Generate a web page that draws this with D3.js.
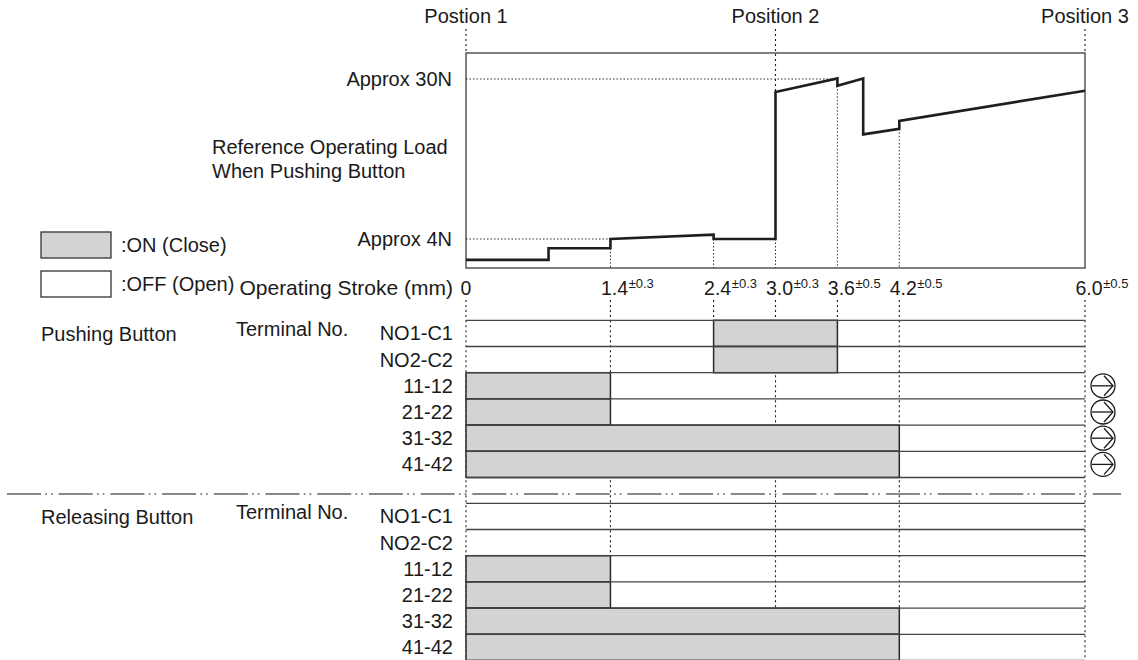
<!DOCTYPE html>
<html><head><meta charset="utf-8">
<script src="https://cdn.jsdelivr.net/npm/d3@7"></script>
<style>
body{margin:0;background:#fff}
svg{display:block}
text{font-family:"Liberation Sans",Arial,Helvetica,sans-serif;fill:#1a1a1a}
</style>
</head><body>
<svg id="c" width="1138" height="660"></svg>
<script>
// ---- data ----
const positionLabels = ["Postion 1", "Position 2", "Position 3"];
const positionStroke = [0, 3.0, 6.0];
const strokeTicks = [0, 1.4, 2.4, 3.0, 3.6, 4.2, 6.0];
const tickTolerance = ["", "±0.3", "±0.3", "±0.3", "±0.5", "±0.5", "±0.5"];
const loadLabels = ["Approx 30N", "Approx 4N"];
const loadValues = [30, 4];
const loadGuideTo = [3.6, 1.4];
const curveStroke = [0, 0.8, 0.8, 1.4, 1.4, 2.4, 2.4, 3.0, 3.0, 3.6, 3.6, 3.85, 3.85, 4.2, 4.2, 6.0];
const curveLoad   = [0.6, 0.6, 2.5, 2.5, 4.0, 4.7, 4.0, 4.0, 27.9, 30.1, 28.9, 30.1, 21.0, 21.9, 23.2, 28.1];
const terminals = ["NO1-C1", "NO2-C2", "11-12", "21-22", "31-32", "41-42"];
const pushOnFrom = [2.4, 2.4, 0, 0, 0, 0];
const pushOnTo   = [3.6, 3.6, 1.4, 1.4, 4.2, 4.2];
const releaseOnFrom = [null, null, 0, 0, 0, 0];
const releaseOnTo   = [null, null, 1.4, 1.4, 4.2, 4.2];
const pushArrow = [false, false, true, true, true, true];
const tableGuideStroke = [0, 1.4, 3.0, 4.2, 6.0];
const legendLabels = [":ON (Close)", ":OFF (Open)"];
const sectionLabels = ["Pushing Button", "Releasing Button"];

// ---- layout ----
const svg = d3.select("#c");
const FS = 20;
const GRAY = "#d2d3d5";
const INK = "#1a1a1a";
const boxTop = 53, boxBottom = 268;
const x = d3.scaleLinear().domain([0, 6]).range([466, 1085]);
const y = d3.scaleLinear().domain([4, 30]).range([239, 79]);
const rowH = 26.2;
const tables = [
  {top: 320.3, from: pushOnFrom, to: pushOnTo, label: sectionLabels[0], arrows: pushArrow},
  {top: 503.3, from: releaseOnFrom, to: releaseOnTo, label: sectionLabels[1], arrows: null}
];
const dotted = "2 3";

// ---- position labels & guides ----
positionLabels.forEach((lab, i) => {
  const px = x(positionStroke[i]);
  svg.append("text").attr("x", px).attr("y", 23).attr("text-anchor", "middle")
    .attr("font-size", FS).text(lab);
  const vals = curveStroke.map((s, k) => s === positionStroke[i] ? curveLoad[k] : null).filter(v => v !== null);
  let yEnd = boxTop;
  if (i === 1) yEnd = y(d3.max(vals));
  svg.append("line").attr("x1", px).attr("x2", px).attr("y1", 29).attr("y2", yEnd)
    .attr("stroke", INK).attr("stroke-width", 1.1).attr("stroke-dasharray", dotted);
});

// ---- chart frame ----
svg.append("rect").attr("x", x(0)).attr("y", boxTop).attr("width", x(6) - x(0)).attr("height", boxBottom - boxTop)
  .attr("fill", "none").attr("stroke", "#555").attr("stroke-width", 1.5);

loadLabels.forEach((lab, i) => {
  const yy = y(loadValues[i]);
  svg.append("line").attr("x1", x(0)).attr("x2", x(loadGuideTo[i])).attr("y1", yy).attr("y2", yy)
    .attr("stroke", "#333").attr("stroke-width", 1).attr("stroke-dasharray", "1.5 2");
  svg.append("text").attr("x", 452).attr("y", yy + 7).attr("text-anchor", "end")
    .attr("font-size", FS).text(lab);
});

svg.append("text").attr("x", 212).attr("y", 154).attr("font-size", FS).text("Reference Operating Load");
svg.append("text").attr("x", 212).attr("y", 178).attr("font-size", FS).text("When Pushing Button");

strokeTicks.forEach(t => {
  if (t === 0 || t === 6) return;
  const vals = curveStroke.map((s, k) => s === t ? curveLoad[k] : null).filter(v => v !== null);
  if (!vals.length) return;
  svg.append("line").attr("x1", x(t)).attr("x2", x(t)).attr("y1", y(d3.min(vals))).attr("y2", boxBottom)
    .attr("stroke", "#333").attr("stroke-width", 1).attr("stroke-dasharray", "1.5 2");
});

const pts = curveStroke.map((s, k) => [s, curveLoad[k]]);
svg.append("path").datum(pts)
  .attr("d", d3.line().x(d => x(d[0])).y(d => y(d[1])))
  .attr("fill", "none").attr("stroke", "#1e1e1e").attr("stroke-width", 2.6).attr("stroke-linejoin", "miter");

// ---- legend ----
[GRAY, "#fff"].forEach((c, i) => {
  svg.append("rect").attr("x", 41).attr("y", 232 + i * 39).attr("width", 70).attr("height", 26)
    .attr("fill", c).attr("stroke", "#333").attr("stroke-width", 1.3);
  svg.append("text").attr("x", 121).attr("y", 252 + i * 39).attr("font-size", FS).text(legendLabels[i]);
});
svg.append("text").attr("x", 453).attr("y", 295).attr("text-anchor", "end").attr("font-size", 21)
  .text("Operating Stroke (mm)");

// ---- stroke tick labels ----
strokeTicks.forEach((t, i) => {
  const tx = svg.append("text").attr("x", x(t) + (i === 0 ? 0 : 4)).attr("y", 295).attr("text-anchor", "middle")
    .attr("font-size", 19.5).text(t === 0 ? "0" : t.toFixed(1));
  if (tickTolerance[i]) {
    const bb = tx.node().getBBox();
    svg.append("text").attr("x", bb.x + bb.width + 0.5).attr("y", 288).attr("font-size", 13).text(tickTolerance[i]);
  }
});

strokeTicks.forEach(t => {
  svg.append("line").attr("x1", x(t)).attr("x2", x(t)).attr("y1", 300).attr("y2", tables[0].top)
    .attr("stroke", INK).attr("stroke-width", 1.1).attr("stroke-dasharray", dotted);
});
tableGuideStroke.forEach(t => {
  svg.append("line").attr("x1", x(t)).attr("x2", x(t)).attr("y1", tables[0].top).attr("y2", 660)
    .attr("stroke", INK).attr("stroke-width", 1.1).attr("stroke-dasharray", dotted);
});

// ---- tables ----
tables.forEach(tb => {
  terminals.forEach((term, r) => {
    const yTop = tb.top + r * rowH;
    if (tb.from[r] !== null) {
      svg.append("rect").attr("x", x(tb.from[r])).attr("y", yTop)
        .attr("width", x(tb.to[r]) - x(tb.from[r])).attr("height", rowH)
        .attr("fill", GRAY).attr("stroke", "#2a2a2a").attr("stroke-width", 1.5);
    }
    svg.append("text").attr("x", 453).attr("y", yTop + rowH / 2 + 7).attr("text-anchor", "end")
      .attr("font-size", FS).text(term);
    if (tb.arrows && tb.arrows[r]) {
      const cx = x(6) + 18, cy = yTop + rowH / 2;
      const g = svg.append("g").attr("fill", "none").attr("stroke", INK).attr("stroke-width", 1.3);
      g.append("circle").attr("cx", cx).attr("cy", cy).attr("r", 12);
      g.append("line").attr("x1", cx - 11).attr("x2", cx + 10).attr("y1", cy).attr("y2", cy);
      g.append("polyline").attr("points", `${cx + 1},${cy - 10} ${cx + 10},${cy} ${cx + 1},${cy + 10}`);
    }
  });
  d3.range(terminals.length + 1).forEach(r => {
    const yy = tb.top + r * rowH;
    svg.append("line").attr("x1", x(0)).attr("x2", x(6)).attr("y1", yy).attr("y2", yy)
      .attr("stroke", "#444").attr("stroke-width", 1.3);
  });
  svg.append("text").attr("x", 41).attr("y", tb.top + 21).attr("font-size", FS).text(tb.label);
  svg.append("text").attr("x", 236).attr("y", tb.top + 16).attr("font-size", FS).text("Terminal No.");
});

svg.append("line").attr("x1", 7).attr("x2", 1121).attr("y1", 494).attr("y2", 494)
  .attr("stroke", "#888").attr("stroke-width", 2).attr("stroke-dasharray", "34 4.3 1.7 4 1.7 6");
</script>
</body></html>
